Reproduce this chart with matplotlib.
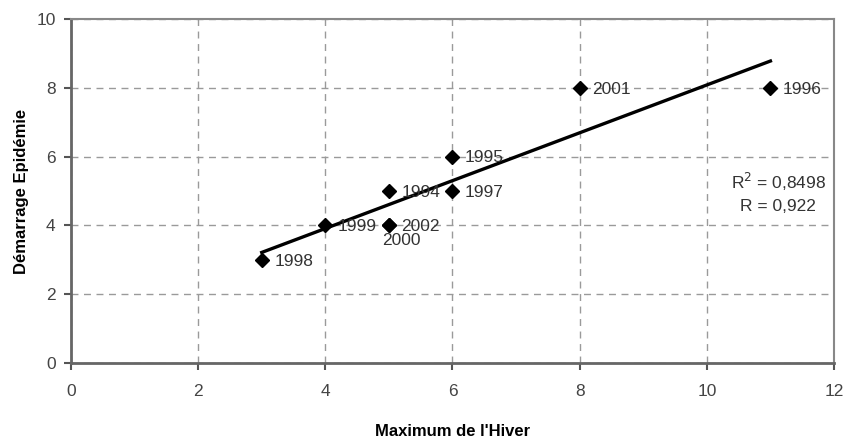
import numpy as np
import matplotlib
matplotlib.use("Agg")
import matplotlib.pyplot as plt

plt.rcParams['font.family'] = ['Liberation Sans', 'DejaVu Sans']

# Data
years = ['1998', '1999', '1994', '2002', '2000', '1995', '1997', '2001', '1996']
maximum_hiver = [3, 4, 5, 5, 5, 6, 6, 8, 11]
demarrage = [3, 4, 5, 4, 4, 6, 5, 8, 8]
r2_text = 'R$^2$ = 0,8498\nR = 0,922'

x = np.array(maximum_hiver, dtype=float)
y = np.array(demarrage, dtype=float)
slope, intercept = np.polyfit(x, y, 1)

fig = plt.figure(figsize=(8.45, 4.41), dpi=100)
ax = fig.add_axes([0.084, 0.177, 0.903, 0.780])

ax.grid(True, linestyle=(0, (5, 4)), color='#9a9a9a', linewidth=1)
ax.set_axisbelow(True)

xs = np.array([x.min(), x.max()])
ax.plot(xs, slope * xs + intercept, color='black', linewidth=2.4, zorder=3)
ax.plot(x, y, linestyle='none', marker='D', markersize=7, color='black', zorder=4)

for xi, yi, lab in zip(x, y, years):
    if lab == '2000':
        ax.annotate(lab, (xi, yi), xytext=(9, -11), textcoords='offset points',
                    ha='center', va='center', fontsize=12.5, color='#333333', zorder=5)
    else:
        ax.annotate(lab, (xi, yi), xytext=(9, -1), textcoords='offset points',
                    ha='left', va='center', fontsize=12.5, color='#333333', zorder=5)

ax.text(11.12, 4.95, r2_text, ha='center', va='center', multialignment='center',
        fontsize=12.5, color='#333333', linespacing=1.5)

ax.set_xlim(0, 12)
ax.set_ylim(0, 10)
ax.set_xticks(range(0, 13, 2))
ax.set_yticks(range(0, 11, 2))
ax.tick_params(direction='out', length=5, width=1.5, colors='#555555',
               labelsize=12.5, labelcolor='#444444')
ax.tick_params(axis='x', pad=10)
ax.tick_params(axis='y', pad=6)

for side in ['left', 'bottom']:
    ax.spines[side].set_color('#666666')
    ax.spines[side].set_linewidth(2)
for side in ['top', 'right']:
    ax.spines[side].set_color('#888888')
    ax.spines[side].set_linewidth(1.5)

ax.set_xlabel("Maximum de l'Hiver", fontsize=12, fontweight='bold', labelpad=18)
ax.set_ylabel('Démarrage Epidémie', fontsize=12, fontweight='bold', labelpad=5)

fig.savefig('out.png', dpi=100)
